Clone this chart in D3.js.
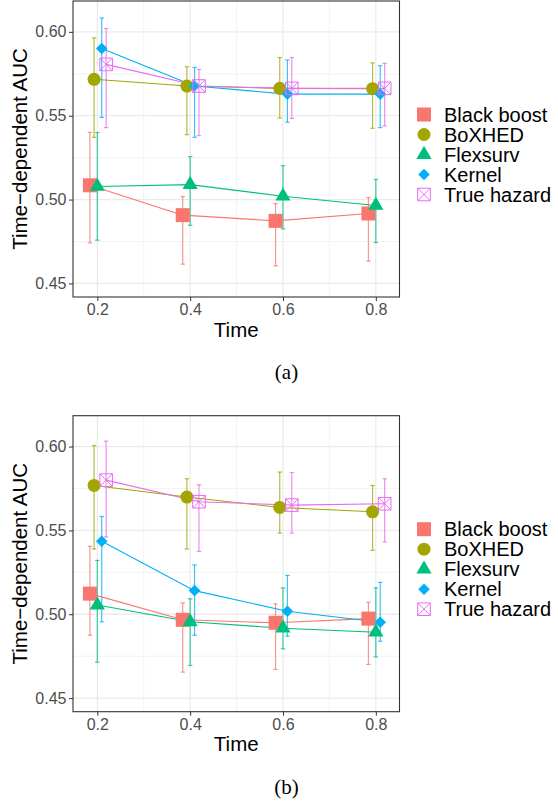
<!DOCTYPE html>
<html>
<head>
<meta charset="utf-8">
<script src="https://cdn.jsdelivr.net/npm/d3@7"></script>
<style>
	body { margin: 0; background: #fff; }
	svg { display: block; font-family: 'Liberation Sans', Arial, sans-serif; }
</style>
</head>
<body>
<svg id="chart" width="558" height="805"></svg>
<script>
/* eslint-disable no-magic-numbers */
const times = [0.2, 0.4, 0.6, 0.8];
const methods = ['Black boost', 'BoXHED', 'Flexsurv', 'Kernel', 'True hazard'];
const colours = ['#F8766D', '#A3A500', '#00BF7D', '#00B0F6', '#E76BF3'];
// horizontal dodge of each method, in time units
const dodge = [-0.016, -0.007, 0, 0.0095, 0.019];
const yTicks = [0.45, 0.50, 0.55, 0.60];
const yMinor = [0.475, 0.525, 0.575];
const xMinor = [0.3, 0.5, 0.7];

// panel (a): mean AUC, lower and upper error bar, one row per method
const aucA = [
	[0.5085, 0.4907, 0.4873, 0.4917],
	[0.5717, 0.5677, 0.5663, 0.5661],
	[0.5078, 0.5089, 0.5020, 0.4965],
	[0.5901, 0.5677, 0.5629, 0.5629],
	[0.5806, 0.5677, 0.5663, 0.5663]
];
const lowA = [
	[0.4742, 0.4615, 0.4605, 0.4633],
	[0.5371, 0.5387, 0.5486, 0.5425],
	[0.4758, 0.4847, 0.4825, 0.4744],
	[0.5490, 0.5371, 0.5461, 0.5429],
	[0.5429, 0.5381, 0.5484, 0.5439]
];
const highA = [
	[0.5401, 0.5018, 0.4976, 0.5012],
	[0.5964, 0.5792, 0.5847, 0.5815],
	[0.5400, 0.5256, 0.5202, 0.5120],
	[0.6083, 0.5788, 0.5832, 0.5798],
	[0.6020, 0.5776, 0.5847, 0.5812]
];

// panel (b)
const aucB = [
	[0.5123, 0.4967, 0.4949, 0.4974],
	[0.5768, 0.5699, 0.5637, 0.5611],
	[0.5055, 0.4955, 0.4917, 0.4893],
	[0.5435, 0.5141, 0.5018, 0.4952],
	[0.5800, 0.5671, 0.5651, 0.5659]
];
const lowB = [
	[0.4875, 0.4655, 0.4671, 0.4701],
	[0.5389, 0.5389, 0.5484, 0.5381],
	[0.4714, 0.4695, 0.4794, 0.4746],
	[0.4955, 0.4875, 0.4869, 0.4839],
	[0.5461, 0.5375, 0.5484, 0.5431]
];
const highB = [
	[0.5405, 0.5068, 0.5062, 0.5071],
	[0.6006, 0.5808, 0.5848, 0.5768],
	[0.5321, 0.5092, 0.5157, 0.5157],
	[0.5583, 0.5294, 0.5232, 0.5190],
	[0.6032, 0.5772, 0.5845, 0.5808]
];

const panels = [
	{ top: 1, auc: aucA, low: lowA, high: highA, caption: '(a)', captionY: 379 },
	{ top: 415.7, auc: aucB, low: lowB, high: highB, caption: '(b)', captionY: 794 }
];

const Dimensions = { left: 73, right: 399.5, height: 296, keyX: 424, textX: 444, rowGap: 20 };

const shapePath = (i) => {
	if (i === 0) return d3.symbol(d3.symbolSquare, 196)();
	if (i === 1) return d3.symbol(d3.symbolCircle, 133)();
	if (i === 2) return d3.symbol(d3.symbolTriangle, 100)();
	if (i === 3) return 'M0,-5.8L5.8,0L0,5.8L-5.8,0Z';
	return 'M-6.3,-6.3H6.3V6.3H-6.3Z M-6.3,-6.3L6.3,6.3 M6.3,-6.3L-6.3,6.3';
};

const drawMarker = (sel, i) => {
	const p = sel.append('path').attr('d', shapePath(i));
	if (i === 4) {
		p.attr('fill', 'none').attr('stroke', colours[i])
			.attr('stroke-width', 1);
	} else {
		p.attr('fill', colours[i]);
	}
	return p;
};

const drawPanel = (svg, panel) => {
	const { left, right, height, keyX, textX, rowGap } = Dimensions;
	const { top, auc, low, high, caption, captionY } = panel;
	const bottom = top + height;
	const x = d3.scaleLinear().domain([0.1476, 0.851]).range([left, right]);
	const y = d3.scaleLinear().domain([0.4419, 0.6184]).range([bottom, top]);
	const g = svg.append('g');

	// grid
	g.selectAll('.minorY').data(yMinor).enter()
		.append('line')
		.attr('x1', left).attr('x2', right)
		.attr('y1', (d) => y(d)).attr('y2', (d) => y(d))
		.attr('stroke', '#F1F1F1').attr('stroke-width', 0.9);
	g.selectAll('.minorX').data(xMinor).enter()
		.append('line')
		.attr('y1', top).attr('y2', bottom)
		.attr('x1', (d) => x(d)).attr('x2', (d) => x(d))
		.attr('stroke', '#F1F1F1').attr('stroke-width', 0.9);
	g.selectAll('.majorY').data(yTicks).enter()
		.append('line')
		.attr('x1', left).attr('x2', right)
		.attr('y1', (d) => y(d)).attr('y2', (d) => y(d))
		.attr('stroke', '#EBEBEB').attr('stroke-width', 1.3);
	g.selectAll('.majorX').data(times).enter()
		.append('line')
		.attr('y1', top).attr('y2', bottom)
		.attr('x1', (d) => x(d)).attr('x2', (d) => x(d))
		.attr('stroke', '#EBEBEB').attr('stroke-width', 1.3);

	// axes
	const yAxis = g.append('g').attr('transform', `translate(${ left },0)`)
		.call(d3.axisLeft(y).tickValues(yTicks).tickFormat(d3.format('.2f'))
			.tickSize(4).tickPadding(2.5));
	const xAxis = g.append('g').attr('transform', `translate(0,${ bottom })`)
		.call(d3.axisBottom(x).tickValues(times).tickFormat(d3.format('.1f'))
			.tickSize(4).tickPadding(2.5));
	[yAxis, xAxis].forEach((a) => {
		a.select('.domain').remove();
		a.selectAll('line').attr('stroke', '#333333');
		a.selectAll('text').attr('fill', '#4D4D4D')
			.style('font-size', '16px').style('font-family', 'Liberation Sans, Arial, sans-serif');
	});

	// series: error bars, lines, points
	methods.forEach((m, i) => {
		const sg = g.append('g');
		times.forEach((t, j) => {
			const cx = x(t + dodge[i]);
			sg.append('line').attr('x1', cx).attr('x2', cx)
				.attr('y1', y(low[i][j])).attr('y2', y(high[i][j]))
				.attr('stroke', colours[i]).attr('stroke-width', 1.2)
				.attr('opacity', 0.75);
			[low[i][j], high[i][j]].forEach((v) => {
				sg.append('line').attr('x1', cx - 2.2).attr('x2', cx + 2.2)
					.attr('y1', y(v)).attr('y2', y(v))
					.attr('stroke', colours[i]).attr('stroke-width', 1.2)
					.attr('opacity', 0.75);
			});
		});
	});
	methods.forEach((m, i) => {
		const line = d3.line().x((d, j) => x(times[j] + dodge[i])).y((d) => y(d));
		g.append('path').attr('d', line(auc[i]))
			.attr('fill', 'none').attr('stroke', colours[i])
			.attr('stroke-width', 1.1);
	});
	methods.forEach((m, i) => {
		auc[i].forEach((v, j) => {
			const mk = g.append('g')
				.attr('transform', `translate(${ x(times[j] + dodge[i]) },${ y(v) })`);
			drawMarker(mk, i);
		});
	});

	// border
	g.append('rect').attr('x', left).attr('y', top)
		.attr('width', right - left).attr('height', height)
		.attr('fill', 'none').attr('stroke', '#333333').attr('stroke-width', 1.1);

	// titles
	g.append('text').attr('x', (left + right) / 2).attr('y', bottom + 39.5)
		.attr('text-anchor', 'middle').style('font-size', '20.5px')
		.text('Time');
	g.append('text')
		.attr('transform', `translate(26.5,${ top + height / 2 }) rotate(-90)`)
		.attr('text-anchor', 'middle').style('font-size', '20.5px')
		.text('Time\u2212dependent AUC');
	g.append('text').attr('x', 286.5).attr('y', captionY)
		.attr('text-anchor', 'middle')
		.style('font-family', 'Liberation Serif, Times New Roman, serif')
		.style('font-size', '21px')
		.text(caption);

	// legend
	const lg = g.append('g').attr('transform', `translate(0,${ top + 113.5 })`);
	methods.forEach((m, i) => {
		const row = lg.append('g').attr('transform', `translate(0,${ i * rowGap })`);
		drawMarker(row.append('g').attr('transform', `translate(${ keyX },0)`), i);
		row.append('text').attr('x', textX).attr('y', 7.2)
			.style('font-size', '20px').text(m);
	});
};

const svg = d3.select('#chart');
panels.forEach((p) => drawPanel(svg, p));
</script>
</body>
</html>
